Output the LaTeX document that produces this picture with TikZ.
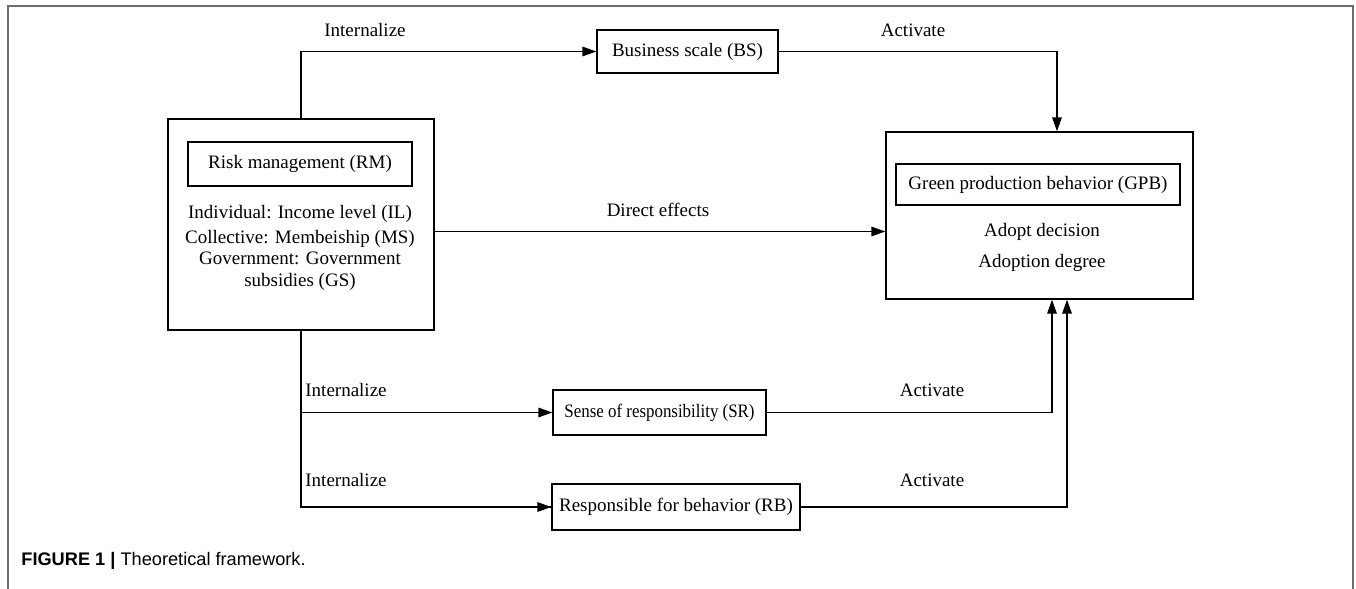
\documentclass[tikz,border=0pt]{standalone}
\usepackage{graphicx}
\usepackage{fontspec}
\setmainfont{Liberation Serif}
\setsansfont{Liberation Sans}
\usetikzlibrary{arrows.meta, positioning, calc}
\definecolor{fwframe}{HTML}{6E6E6E}

\begin{document}
\begin{tikzpicture}[x=0.5pt, y=-0.5pt, line join=miter,
                    font=\fontsize{9.5}{11}\selectfont,
                    box/.style={draw, line width=0.7pt, inner sep=0pt, align=center},
                    arr/.style={line width=0.7pt, -{Triangle[length=7pt, width=4.8pt]}},
                    lnk/.style={line width=0.7pt},
                    lbl/.style={inner sep=0pt}]
  \useasboundingbox (0,0) rectangle (1356,589);
  \draw[fwframe, line width=1pt] (8,589) -- (8,6) -- (1353,6) -- (1353,589);
  % risk management
  \node[box, minimum width=133pt, minimum height=105.5pt] (RM) at (301,224.5) {};
  \node[box, minimum width=112pt, minimum height=22pt] (RMtitle) at (300,164) {Risk management (RM)};
  \node[lbl] (IL) at (300,214) {Individual: Income level (IL)};
  \node[lbl] (MS) at (300,239) {Collective: Membeiship (MS)};
  \node[lbl, align=center] (GS) at (300,271) {Government: Government\\subsidies (GS)};
  % mediators
  \node[box, minimum width=90.5pt, minimum height=21.5pt] (BS) at (687.5,51.5) {Business scale (BS)};
  \node[box, minimum width=106.5pt, minimum height=22.5pt] (SR) at (659.5,412.5)
    {\scalebox{0.89}[1]{Sense of responsibility (SR)}};
  \node[box, minimum width=124pt, minimum height=23pt] (RB) at (676,507) {Responsible for behavior (RB)};
  % green production behaviour
  \node[box, minimum width=153.5pt, minimum height=83.5pt] (GPB) at (1039.5,215.5) {};
  \node[box, minimum width=142pt, minimum height=20.5pt] (GPBtitle) at (1038,184.5) {Green production behavior (GPB)};
  \node[lbl] (AD) at (1042,232) {Adopt decision};
  \node[lbl] (AG) at (1042,263) {Adoption degree};
  % connectors
  \draw[arr] (RM.north) |- (BS.west);
  \draw[arr] (BS.east) -| ([xshift=8.75pt]GPB.north);
  \draw[arr] ([yshift=-3.5pt]RM.east) -- ([yshift=-3.5pt]RM.east -| GPB.west);
  \draw[lnk] (RM.south) |- (RB.west);
  \draw[arr] (RM.south |- SR.west) -- (SR.west);
  \draw[arr] (RB.west -| RM.south) -- (RB.west);
  \draw[arr] (SR.east) -| ([xshift=6.25pt]GPB.south);
  \draw[arr] (RB.east) -| ([xshift=13.75pt]GPB.south);
  % labels
  \node[lbl] (inA) at (365,30) {Internalize};
  \node[lbl] (acA) at (913,30) {Activate};
  \node[lbl] (dir) at (658,210) {Direct effects};
  \node[lbl, anchor=west] (inB) at (305,390) {Internalize};
  \node[lbl, anchor=west] (inC) at (305,480) {Internalize};
  \node[lbl] (acB) at (932,390) {Activate};
  \node[lbl] (acC) at (932,480) {Activate};
  % caption
  \node[lbl, anchor=west, font=\sffamily\fontsize{9.1}{11}\selectfont] (cap) at (21,561)
    {\textbf{FIGURE 1 |} Theoretical framework.};
\end{tikzpicture}
\end{document}
